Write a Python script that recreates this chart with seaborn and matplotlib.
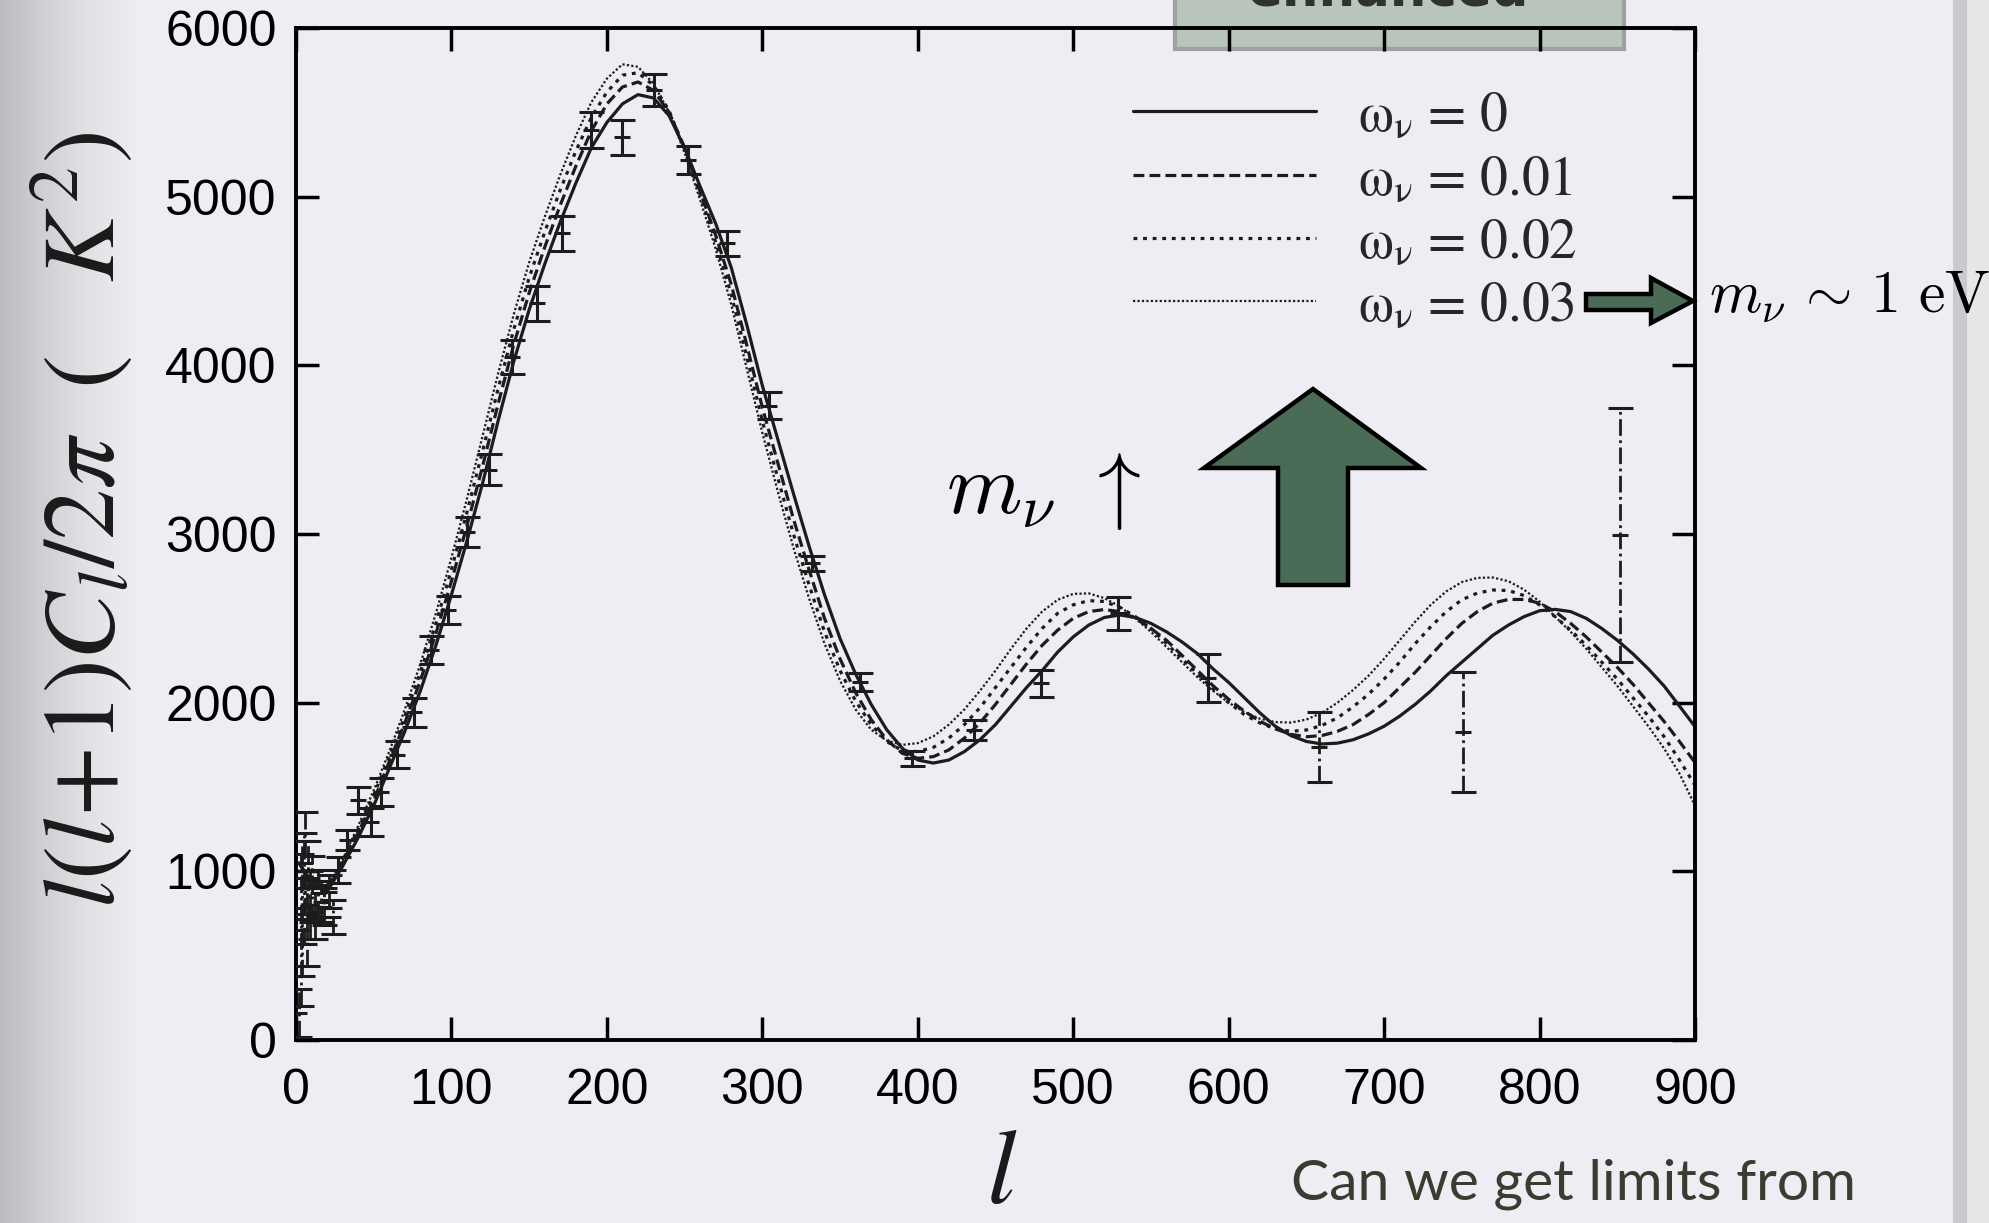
import numpy as np
import pandas as pd
import seaborn as sns
import matplotlib.pyplot as plt
import matplotlib.patches as mpatches
from matplotlib.font_manager import FontProperties

# multipole grid of the model curves
ell = [2, 10, 20, 30, 40, 50, 60, 70, 80, 90,
       100, 110, 120, 130, 140, 150, 160, 170, 180, 190,
       200, 210, 220, 230, 240, 250, 260, 270, 280, 290,
       300, 310, 320, 330, 340, 350, 360, 370, 380, 390,
       400, 410, 420, 430, 440, 450, 460, 470, 480, 490,
       500, 510, 520, 530, 540, 550, 560, 570, 580, 590,
       600, 610, 620, 630, 640, 650, 660, 670, 680, 690,
       700, 710, 720, 730, 740, 750, 760, 770, 780, 790,
       800, 810, 820, 830, 840, 850, 860, 870, 880, 890, 900]

# l(l+1)C_l/2pi for omega_nu = 0, 0.01, 0.02, 0.03
cl_00 = [1050, 930, 880, 1030, 1200, 1390, 1610, 1830, 2070, 2340,
         2640, 2960, 3300, 3670, 4020, 4330, 4600, 4850, 5080, 5290,
         5440, 5550, 5605, 5585, 5480, 5290, 5060, 4840, 4580, 4240,
         3880, 3560, 3240, 2930, 2640, 2380, 2170, 1990, 1840, 1730,
         1660, 1642, 1660, 1710, 1780, 1870, 1980, 2090, 2190, 2300,
         2390, 2460, 2505, 2520, 2505, 2470, 2420, 2360, 2290, 2200,
         2120, 2030, 1940, 1860, 1805, 1770, 1755, 1760, 1780, 1815,
         1860, 1920, 1990, 2070, 2160, 2240, 2320, 2400, 2460, 2510,
         2545, 2553, 2540, 2500, 2440, 2370, 2290, 2200, 2100, 1980, 1858]
cl_01 = [1050, 930, 890, 1050, 1230, 1420, 1650, 1880, 2130, 2410,
         2720, 3050, 3400, 3770, 4120, 4430, 4700, 4950, 5180, 5390,
         5550, 5650, 5680, 5630, 5500, 5290, 5030, 4770, 4480, 4120,
         3750, 3420, 3090, 2790, 2500, 2260, 2060, 1900, 1780, 1700,
         1670, 1680, 1720, 1790, 1880, 1990, 2110, 2230, 2340, 2430,
         2500, 2540, 2552, 2540, 2500, 2440, 2370, 2280, 2190, 2100,
         2020, 1950, 1890, 1845, 1812, 1798, 1805, 1830, 1870, 1930,
         2000, 2090, 2180, 2280, 2380, 2470, 2540, 2590, 2612, 2612,
         2590, 2540, 2470, 2390, 2300, 2210, 2110, 2000, 1890, 1770, 1645]
cl_02 = [1050, 935, 895, 1060, 1250, 1450, 1680, 1920, 2180, 2470,
         2790, 3130, 3490, 3860, 4210, 4520, 4790, 5040, 5270, 5470,
         5620, 5720, 5735, 5660, 5510, 5280, 5010, 4730, 4420, 4050,
         3670, 3330, 3000, 2700, 2420, 2190, 2010, 1870, 1770, 1715,
         1710, 1735, 1790, 1870, 1970, 2090, 2210, 2330, 2440, 2530,
         2580, 2605, 2600, 2565, 2510, 2440, 2350, 2260, 2170, 2080,
         2000, 1930, 1880, 1845, 1830, 1838, 1865, 1910, 1975, 2050,
         2140, 2240, 2350, 2450, 2540, 2610, 2650, 2668, 2665, 2635,
         2580, 2510, 2430, 2340, 2240, 2140, 2030, 1920, 1800, 1660, 1510]
cl_03 = [1050, 940, 900, 1070, 1270, 1480, 1710, 1960, 2230, 2530,
         2860, 3210, 3580, 3950, 4300, 4610, 4880, 5130, 5360, 5560,
         5700, 5785, 5770, 5670, 5500, 5260, 4980, 4690, 4360, 3980,
         3600, 3250, 2920, 2620, 2350, 2130, 1960, 1840, 1775, 1750,
         1760, 1800, 1870, 1960, 2070, 2190, 2320, 2440, 2540, 2610,
         2645, 2648, 2620, 2570, 2500, 2420, 2330, 2240, 2150, 2070,
         2000, 1945, 1905, 1885, 1882, 1900, 1940, 2000, 2075, 2160,
         2260, 2370, 2480, 2580, 2660, 2715, 2740, 2742, 2720, 2670,
         2600, 2510, 2420, 2320, 2210, 2100, 1980, 1860, 1730, 1580, 1390]
labels = ['ω$_\\mathrm{ν}$ = 0', 'ω$_\\mathrm{ν}$ = 0.01',
          'ω$_\\mathrm{ν}$ = 0.02', 'ω$_\\mathrm{ν}$ = 0.03']

# binned data points (solid error bars)
obs_l = [27, 33, 40, 48, 55, 65, 76, 87, 98, 110, 124, 139, 155, 171, 190,
         210, 230, 252, 277, 304, 332, 363, 396, 436, 479, 529, 587]
obs_v = [1008, 1186, 1420, 1294, 1472, 1690, 1942, 2312, 2550, 3012, 3382,
         4050, 4368, 4783, 5395, 5352, 5633, 5217, 4724, 3760, 2826, 2124,
         1670, 1838, 2115, 2530, 2144]
obs_e = [75, 60, 80, 83, 84, 80, 85, 85, 85, 90, 90, 100, 104, 105, 109,
         104, 94, 84, 74, 79, 45, 54, 45, 59, 79, 99, 143]
# low-l and high-l points (dash-dot error bars)
wide_l = [2, 3, 4, 5, 6, 7, 8, 9, 10, 12, 14, 16, 18, 21, 24, 658, 751, 852]
wide_v = [160, 650, 780, 900, 1050, 700, 950, 800, 900, 760, 870, 820, 790,
          880, 730, 1739, 1828, 2994]
wide_e = [140, 450, 400, 330, 300, 260, 230, 200, 190, 160, 140, 120, 110,
          100, 100, 207, 356, 755]

W, H = 1989, 1223
ink = '#1c1c1c'
green = '#4a6b56'

sns.set_style('ticks')
plt.rcParams['font.family'] = ['Liberation Sans', 'DejaVu Sans']
plt.rcParams['mathtext.fontset'] = 'stix'

fig = plt.figure(figsize=(W / 100, H / 100), dpi=100)


def fx(px):
    return px / W


def fy(py):
    return 1 - py / H


# slide background: soft shadow on the left, grey rule on the right
bg = fig.add_axes([0, 0, 1, 1], zorder=-10)
bg.axis('off')
base = np.array([0.937, 0.933, 0.953])
cols = np.tile(base, (W, 1))
xs = np.arange(W)
shade = np.clip(1 - xs / 150.0, 0, 1) ** 1.5
cols = cols - shade[:, None] * 0.2
cols[1953:1967] = [0.79, 0.79, 0.81]
cols[1967:] = [0.905, 0.905, 0.915]
bg.imshow(cols[np.newaxis, :, :], aspect='auto', extent=[0, 1, 0, 1])

# "enhanced" box peeking in at the top
box = mpatches.Rectangle((fx(1175), fy(49)), fx(449), 80 / H, transform=fig.transFigure,
                         facecolor='#b8c4bc', edgecolor='#9ea19f', lw=3, zorder=-1)
fig.add_artist(box)
fig.text(fx(1389), fy(6), 'enhanced', ha='center', va='baseline', fontsize=37,
         fontweight='bold', color='#2f322f', family='DejaVu Sans', zorder=-1)

ax = fig.add_axes([fx(296), fy(1040), fx(1695 - 296), (1040 - 28) / H])
ax.set_facecolor('none')

styles = ['-', (0, (3.4, 1.6)), (0, (1.2, 1.8)), (0, (1, 1))]
widths = [2.3, 2.3, 2.3, 1.6]
for vals, lab, ls, lw in zip([cl_00, cl_01, cl_02, cl_03], labels, styles, widths):
    sns.lineplot(x=ell, y=vals, ax=ax, color=ink, lw=lw, linestyle=ls, label=lab)

eb = ax.errorbar(obs_l, obs_v, yerr=obs_e, fmt='_', ms=11, mew=2.2, color=ink,
                 ecolor=ink, elinewidth=2.2, capsize=9, capthick=2.2, zorder=3)
eb2 = ax.errorbar(wide_l, wide_v, yerr=wide_e, fmt='_', ms=11, mew=2.2, color=ink,
                  ecolor=ink, elinewidth=2.0, capsize=9, capthick=2.2, zorder=3)
eb2[2][0].set_linestyle((0, (6, 1.6, 1, 1.6)))

ax.set_xlim(0, 900)
ax.set_ylim(0, 6000)
ax.set_xticks(np.arange(0, 901, 100))
ax.set_yticks(np.arange(0, 6001, 1000))
ax.set_xlabel('')
ax.set_ylabel('')
for sp in ax.spines.values():
    sp.set_visible(True)
    sp.set_linewidth(2.8)
    sp.set_color('black')
ax.tick_params(direction='in', length=16.5, width=2.5, top=True, right=True,
               labelsize=36, colors='black')
ax.tick_params(axis='x', pad=20)
ax.tick_params(axis='y', pad=14)

handles = ax.get_lines()[:4]
ax.legend(handles, labels, loc='upper left', bbox_to_anchor=(fx(1133), fy(92)),
          bbox_transform=fig.transFigure, frameon=False,
          prop=FontProperties(family='STIXGeneral', size=40),
          handlelength=3.3, handletextpad=0.75, labelspacing=0.22,
          borderpad=0, borderaxespad=0)

# axis titles
fig.text(fx(82), fy(520), r'$l(l\!+\!1)C_l/2\pi\ \ (\quad K^2)$', rotation=90,
         ha='center', va='center', fontsize=73, color='#1a1a1a')
fig.text(fx(1002), fy(1176), r'$l$', ha='center', va='center', fontsize=76,
         color='#1a1a1a')

# big up arrow
up = [(1313, 389), (1421, 468), (1348, 468), (1348, 585), (1278, 585),
      (1278, 468), (1204, 468)]
fig.add_artist(mpatches.Polygon([(fx(a), fy(b)) for a, b in up], closed=True,
                                transform=fig.transFigure, facecolor=green,
                                edgecolor='black', lw=3.2, zorder=5))
fig.text(fx(946), fy(513), r'$m_\nu\ \uparrow$', ha='left', va='baseline',
         fontsize=62, math_fontfamily='cm', color='black')

# small arrow to the mass note
right = [(1586, 294), (1651, 294), (1651, 278), (1693, 301), (1651, 323),
         (1651, 310), (1586, 310)]
fig.add_artist(mpatches.Polygon([(fx(a), fy(b)) for a, b in right], closed=True,
                                transform=fig.transFigure, facecolor=green,
                                edgecolor='black', lw=3.2, zorder=5))
fig.text(fx(1709), fy(313), r'$m_\nu \,\sim\, 1\ \mathrm{eV}$', ha='left', va='baseline',
         fontsize=43, math_fontfamily='cm', color='black')

fig.text(fx(1291), fy(1199), 'Can we get limits from', ha='left', va='baseline',
         fontsize=41, family='Lato', color='#3b3b30')

fig.savefig('out.png', dpi=100)
